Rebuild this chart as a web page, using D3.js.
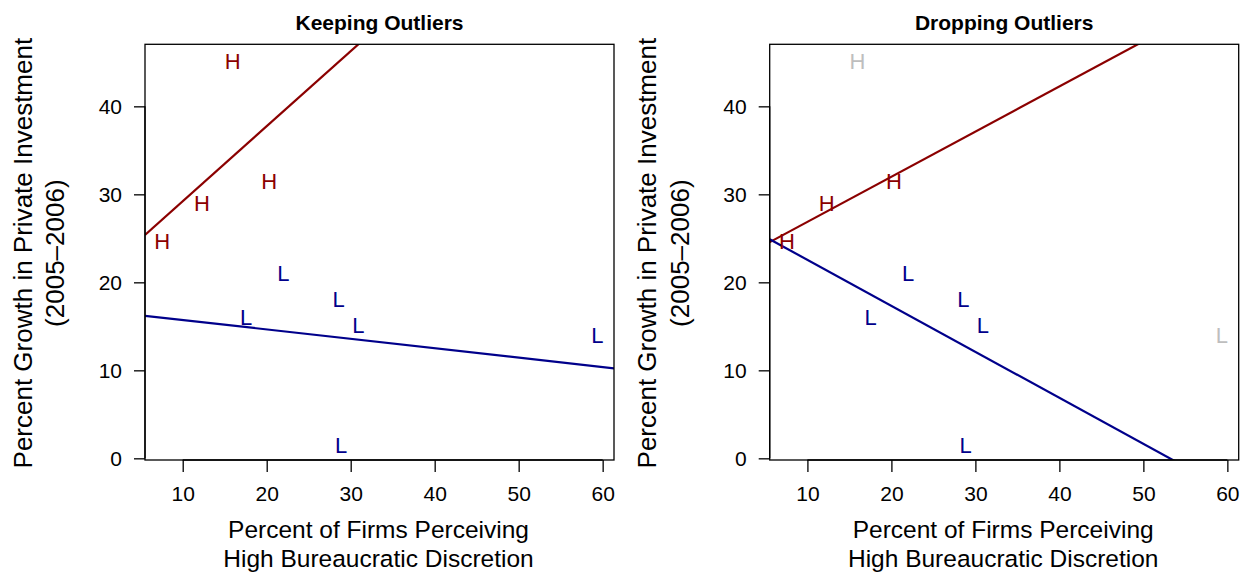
<!DOCTYPE html>
<html>
<head>
<meta charset="utf-8">
<script src="https://cdn.jsdelivr.net/npm/d3@7"></script>
<style>
  html, body { margin: 0; padding: 0; background: #fff; }
  svg { display: block; font-family: "Liberation Sans", Arial, Helvetica, sans-serif; }
</style>
</head>
<body>
<svg id="chart" width="1249" height="573"></svg>
<script>
// ---- data ----
const panelTitles = ["Keeping Outliers", "Dropping Outliers"];
const groupLabels = ["H", "L"];
const hX = [15.95, 20.3, 12.3, 7.57];
const hY = [45.15, 31.55, 29.05, 24.7];
const hOutlier = [true, false, false, false];
const lX = [21.98, 28.57, 17.54, 30.9, 59.36, 28.85];
const lY = [21.1, 18.07, 16.09, 15.11, 14.01, 1.51];
const lOutlier = [false, false, false, false, true, false];
// fitted lines: [intercept, slope] per panel
const hFitIntercept = [20.68, 21.74];
const hFitSlope = [0.853, 0.513];
const lFitIntercept = [16.79, 27.78];
const lFitSlope = [-0.107, -0.5227];
const xTicks = [10, 20, 30, 40, 50, 60];
const yTicks = [0, 10, 20, 30, 40];
const xDomain = [5.51, 61.35];
const yDomain = [-0.19, 47.05];
const xLabelLines = ["Percent of Firms Perceiving", "High Bureaucratic Discretion"];
const yLabelLines = ["Percent Growth in Private Investment", "(2005\u20132006)"];

const colH = "#8B0000", colL = "#00008B", colOut = "#BEBEBE";

const svg = d3.select("#chart");
const panelLeft = [145, 769.7];
const plotW = 469, plotTop = 44.3, plotBottom = 460;
const ptSize = 22, tickSize = 21, labSize = 24.5, yLabSize = 26;

panelTitles.forEach((title, p) => {
  const x0 = panelLeft[p];
  const x = d3.scaleLinear().domain(xDomain).range([x0, x0 + plotW]);
  const y = d3.scaleLinear().domain(yDomain).range([plotBottom, plotTop]);
  const g = svg.append("g");

  const clipId = "clip" + p;
  svg.append("clipPath").attr("id", clipId).append("rect")
    .attr("x", x0).attr("y", plotTop).attr("width", plotW).attr("height", plotBottom - plotTop);

  // fitted lines
  const fits = [
    {a: hFitIntercept[p], b: hFitSlope[p], c: colH},
    {a: lFitIntercept[p], b: lFitSlope[p], c: colL}
  ];
  fits.forEach(f => {
    g.append("line")
      .attr("clip-path", `url(#${clipId})`)
      .attr("x1", x(xDomain[0])).attr("y1", y(f.a + f.b * xDomain[0]))
      .attr("x2", x(xDomain[1])).attr("y2", y(f.a + f.b * xDomain[1]))
      .attr("stroke", f.c).attr("stroke-width", 2.2);
  });

  // points as letters
  const pts = [];
  hX.forEach((v, i) => pts.push({x: v, y: hY[i], t: groupLabels[0], c: (p === 1 && hOutlier[i]) ? colOut : colH}));
  lX.forEach((v, i) => pts.push({x: v, y: lY[i], t: groupLabels[1], c: (p === 1 && lOutlier[i]) ? colOut : colL}));
  g.selectAll("text.pt").data(pts).join("text")
    .attr("class", "pt")
    .attr("x", d => x(d.x)).attr("y", d => y(d.y) + 0.358 * ptSize)
    .attr("text-anchor", "middle")
    .attr("font-size", ptSize).attr("fill", d => d.c)
    .text(d => d.t);

  // box
  g.append("rect").attr("x", x0).attr("y", plotTop).attr("width", plotW).attr("height", plotBottom - plotTop)
    .attr("fill", "none").attr("stroke", "#000").attr("stroke-width", 1.3);

  // axes
  const xAxis = d3.axisBottom(x).tickValues(xTicks).tickSize(12).tickPadding(14).tickFormat(d3.format("d"));
  const xg = g.append("g").attr("transform", `translate(0,${plotBottom})`).call(xAxis);
  xg.select(".domain").attr("d", `M${x(xTicks[0])},0H${x(xTicks[xTicks.length - 1])}`).attr("stroke-width", 1.3);
  xg.selectAll(".tick line").attr("stroke-width", 1.3);
  xg.selectAll("text").attr("font-size", tickSize).attr("font-family", "Liberation Sans, Arial, sans-serif").attr("fill", "#000");

  const yAxis = d3.axisLeft(y).tickValues(yTicks).tickSize(11).tickPadding(12).tickFormat(d3.format("d"));
  const yg = g.append("g").attr("transform", `translate(${x0},0)`).call(yAxis);
  yg.select(".domain").attr("d", `M0,${y(yTicks[0])}V${y(yTicks[yTicks.length - 1])}`).attr("stroke-width", 1.3);
  yg.selectAll(".tick line").attr("stroke-width", 1.3);
  yg.selectAll("text").attr("font-size", tickSize).attr("font-family", "Liberation Sans, Arial, sans-serif").attr("fill", "#000");

  // title
  g.append("text").attr("x", x0 + plotW / 2).attr("y", 30).attr("text-anchor", "middle")
    .attr("font-size", 21).attr("font-weight", "bold").text(title);

  // x label
  xLabelLines.forEach((t, i) => {
    g.append("text").attr("x", x0 + plotW / 2 - 1).attr("y", 538 + i * 29).attr("text-anchor", "middle")
      .attr("font-size", labSize).text(t);
  });

  // y label
  const cy = (plotTop + plotBottom) / 2 + 1;
  yLabelLines.forEach((t, i) => {
    const cx = x0 - 113.5 + i * 32.5;
    g.append("text").attr("transform", `translate(${cx},${cy}) rotate(-90)`)
      .attr("text-anchor", "middle").attr("font-size", yLabSize).text(t);
  });
});
</script>
</body>
</html>
